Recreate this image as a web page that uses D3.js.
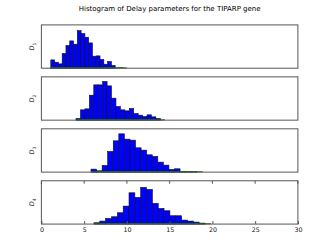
<!DOCTYPE html>
<html>
<head>
<meta charset="utf-8">
<script src="https://cdn.jsdelivr.net/npm/d3@7"></script>
<style>
  body { margin: 0; background: #fff; }
  svg { display: block; font-family: "DejaVu Sans", sans-serif; }
</style>
</head>
<body>
<div id="graphic-area"></div>
<script>
// histogram counts per delay parameter, 20 bins each
const labels = ["1", "2", "3", "4"];
const binStart = [1.10, 4.05, 5.80, 6.15];
const binWidth = [0.443, 0.519, 0.651, 0.683];
const blueCounts = [
  [25, 18, 13, 44, 68, 82, 72, 113, 104, 93, 76, 36, 37, 26, 12, 20, 8, 0, 0, 0],
  [5, 31, 34, 75, 106, 106, 116, 103, 66, 41, 31, 28, 35, 20, 15, 11, 16, 10, 5, 0],
  [9, 4, 20, 62, 94, 115, 99, 96, 73, 66, 52, 47, 30, 21, 8, 10, 2, 1, 1, 0],
  [4, 9, 17, 22, 34, 54, 94, 80, 110, 104, 62, 47, 40, 25, 25, 12, 9, 6, 3, 0]
];
const greenCounts = [
  [3, 3, 3, 3, 3, 3, 3, 3, 3, 3, 3, 3, 3, 3, 3, 3, 3, 3, 3, 2],
  [2, 3, 3, 3, 3, 3, 3, 3, 3, 3, 3, 3, 3, 3, 3, 3, 3, 3, 2, 2],
  [2, 3, 3, 3, 3, 3, 3, 3, 3, 3, 3, 3, 3, 3, 3, 3, 3, 2, 2, 2],
  [2, 3, 3, 3, 3, 3, 3, 3, 3, 3, 3, 3, 3, 3, 3, 3, 3, 3, 2, 2]
];
const xTicks = [0, 5, 10, 15, 20, 25, 30];
const title = "Histogram of Delay parameters for the TIPARP gene";

const w = 331;
const h = 249;
const left = 41.4, right = 297.9;
const top0 = 24.9, panelH = 43.3, gap = 8.66;

const svg = d3.select("#graphic-area")
              .append("svg")
              .attr("width", w)
              .attr("height", h);

svg.append("text")
   .attr("x", (left + right) / 2)
   .attr("y", 10.5)
   .attr("text-anchor", "middle")
   .attr("font-size", 7)
   .attr("fill", "#000")
   .text(title);

const xScale = d3.scaleLinear()
                 .domain([0, 30])
                 .range([left, right]);

labels.forEach(function(lab, p) {
  const y0 = top0 + p * (panelH + gap);
  const yScale = d3.scaleLinear()
                   .domain([0, 130])
                   .range([y0 + panelH, y0]);

  const g = svg.append("g");

  const bins = (counts) => counts.map((c, i) => ({
    x0: binStart[p] + i * binWidth[p],
    x1: binStart[p] + (i + 1) * binWidth[p],
    c: c
  }));

  g.selectAll("rect.blue")
   .data(bins(blueCounts[p]).filter(d => d.c > 0))
   .enter()
   .append("rect")
   .attr("class", "blue")
   .attr("x", d => xScale(d.x0))
   .attr("y", d => yScale(d.c))
   .attr("width", d => xScale(d.x1) - xScale(d.x0))
   .attr("height", d => yScale(0) - yScale(d.c))
   .attr("fill", "#0000ff")
   .attr("stroke", "#111")
   .attr("stroke-width", 0.6);

  g.selectAll("rect.green")
   .data(bins(greenCounts[p]))
   .enter()
   .append("rect")
   .attr("class", "green")
   .attr("x", d => xScale(d.x0))
   .attr("y", d => yScale(d.c))
   .attr("width", d => xScale(d.x1) - xScale(d.x0))
   .attr("height", d => yScale(0) - yScale(d.c))
   .attr("fill", "#008000")
   .attr("stroke", "#1a4d1a")
   .attr("stroke-width", 0.3);

  // frame
  g.append("rect")
   .attr("x", left)
   .attr("y", y0)
   .attr("width", right - left)
   .attr("height", panelH)
   .attr("fill", "none")
   .attr("stroke", "#555")
   .attr("stroke-width", 1);

  // y label D_n
  const lbl = svg.append("text")
     .attr("transform", "translate(34," + (y0 + panelH / 2) + ") rotate(-90)")
     .attr("text-anchor", "middle")
     .attr("font-size", 6.5)
     .attr("fill", "#333");
  lbl.append("tspan").attr("font-style", "italic").text("D");
  lbl.append("tspan").attr("font-size", 4.5).attr("dy", 1.5).text(lab);

  if (p === labels.length - 1) {
    const xAxis = d3.axisBottom(xScale)
                    .tickValues(xTicks)
                    .tickSizeInner(-3)
                    .tickSizeOuter(0)
                    .tickPadding(3);
    const ax = svg.append("g")
       .attr("id", "x-axis")
       .attr("transform", "translate(0," + (y0 + panelH) + ")")
       .call(xAxis);
    ax.select(".domain").remove();
    ax.selectAll("line").attr("stroke", "#555");
    ax.selectAll("text")
      .attr("font-size", 6.3)
      .attr("font-family", "DejaVu Sans, sans-serif")
      .attr("fill", "#111");

    // ticks along the top edge, pointing down
    g.selectAll("line.toptick")
     .data(xTicks)
     .enter()
     .append("line")
     .attr("x1", d => xScale(d))
     .attr("x2", d => xScale(d))
     .attr("y1", y0)
     .attr("y2", y0 + 3)
     .attr("stroke", "#555");
  }
});
</script>
</body>
</html>
